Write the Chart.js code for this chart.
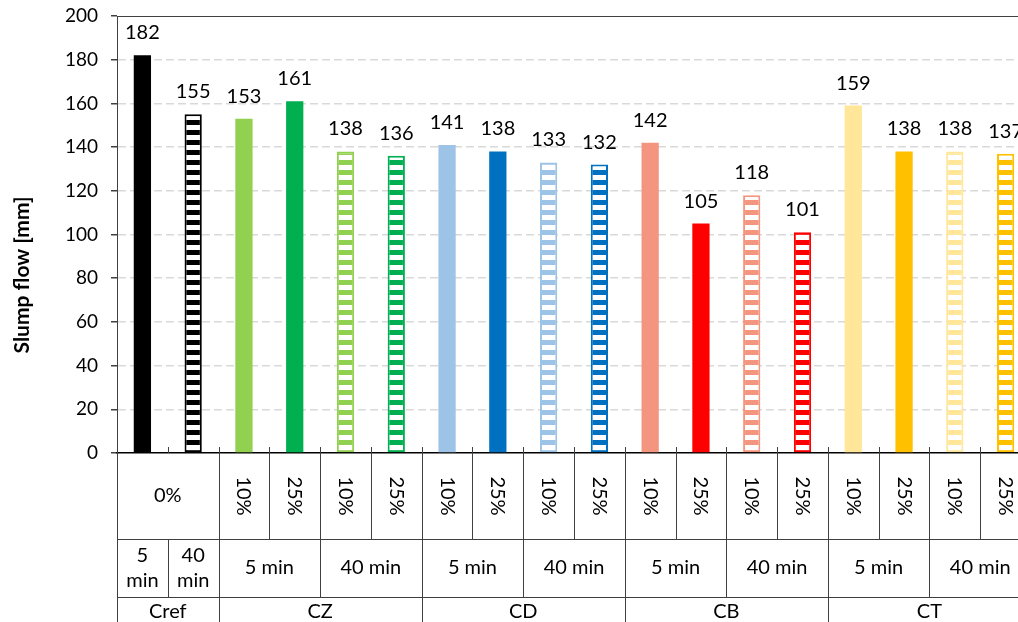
<!DOCTYPE html>
<html>
<head>
<meta charset="utf-8">
<title>Slump flow</title>
<script src="https://cdn.jsdelivr.net/npm/chart.js@4/dist/chart.umd.min.js"></script>
<style>
  html, body { margin: 0; padding: 0; background: #fff; overflow: hidden; }
  #wrap { width: 1018px; height: 622px; overflow: hidden; }
</style>
</head>
<body>
<div id="wrap">
  <canvas id="slump" width="1031" height="622"></canvas>
</div>
<script>
// mixes and bars, left to right
let groups = ['Cref', 'CZ', 'CD', 'CB', 'CT'];
let times = ['5 min', '40 min'];
let dosages = ['10%', '25%'];
let labels = [
  'Cref 5 min', 'Cref 40 min',
  'CZ 5 min 10%', 'CZ 5 min 25%', 'CZ 40 min 10%', 'CZ 40 min 25%',
  'CD 5 min 10%', 'CD 5 min 25%', 'CD 40 min 10%', 'CD 40 min 25%',
  'CB 5 min 10%', 'CB 5 min 25%', 'CB 40 min 10%', 'CB 40 min 25%',
  'CT 5 min 10%', 'CT 5 min 25%', 'CT 40 min 10%', 'CT 40 min 25%'
];
let slumpFlow = [182, 155, 153, 161, 138, 136, 141, 138, 133, 132, 142, 105, 118, 101, 159, 138, 138, 137];
let yMin = 0, yMax = 200, yStep = 20;

// colours per bar, 40 min bars are striped
let barColors = [
  '#000000', '#000000',
  '#92D050', '#00B050', '#92D050', '#00B050',
  '#9DC3E6', '#0070C0', '#9DC3E6', '#0070C0',
  '#F4967F', '#FF0000', '#F4967F', '#FF0000',
  '#FFE699', '#FFC000', '#FFE699', '#FFC000'
];
let striped = [false, true].concat([false, false, true, true, false, false, true, true,
  false, false, true, true, false, false, true, true]);

let font = 'Lato, "Open Sans", sans-serif';
let lineColor = '#404040';

let canvas = document.getElementById('slump');
let ctx = canvas.getContext('2d');

// horizontal stripes: coloured band then white band
function stripes(color) {
  let tile = document.createElement('canvas');
  tile.width = 4;
  tile.height = 10;
  let t = tile.getContext('2d');
  t.fillStyle = color;
  t.fillRect(0, 0, 4, 10);
  t.fillStyle = '#ffffff';
  t.fillRect(0, 5, 4, 5);
  return ctx.createPattern(tile, 'repeat');
}

let fills = barColors.map((c, i) => striped[i] ? stripes(c) : c);

// numbers above bars
let valueLabels = {
  id: 'valueLabels',
  afterDatasetsDraw(chart) {
    let c = chart.ctx;
    let meta = chart.getDatasetMeta(0);
    c.save();
    c.font = '20px ' + font;
    c.fillStyle = '#000';
    c.textAlign = 'center';
    c.textBaseline = 'alphabetic';
    meta.data.forEach((bar, i) => {
      c.fillText(String(chart.data.datasets[0].data[i]), bar.x, bar.y - 16);
    });
    c.restore();
  }
};

// category table under the x axis, top border and y title
let categoryTable = {
  id: 'categoryTable',
  afterDraw(chart) {
    let c = chart.ctx;
    let x = chart.scales.x;
    let y = chart.scales.y;
    let area = chart.chartArea;
    let edge = (i) => x.getPixelForValue(i - 0.5);
    let mid = (a, b) => (edge(a) + edge(b)) / 2;
    let top = area.bottom;
    let row1 = top + 86;
    let row2 = top + 144;
    let bottom = chart.height;

    c.save();
    c.setLineDash([]);
    c.strokeStyle = lineColor;
    c.lineWidth = 1;

    // plot top border at 200
    let yTop = Math.round(y.getPixelForValue(yMax)) + 0.5;
    c.beginPath();
    c.moveTo(area.left, yTop);
    c.lineTo(area.right, yTop);
    c.stroke();

    let vline = (i, y0, y1) => {
      let px = Math.round(edge(i)) + 0.5;
      c.beginPath();
      c.moveTo(px, y0);
      c.lineTo(px, y1);
      c.stroke();
    };
    let hline = (py) => {
      c.beginPath();
      c.moveTo(edge(0), py + 0.5);
      c.lineTo(edge(labels.length), py + 0.5);
      c.stroke();
    };

    // small ticks between categories
    for (let i = 1; i < labels.length; i++) vline(i, top - 6, top);

    // row of dosages
    for (let i = 0; i <= labels.length; i++) {
      if (i !== 1) vline(i, top, row1);
    }
    hline(row1);
    // row of times
    [0, 1, 2, 4, 6, 8, 10, 12, 14, 16, 18].forEach(i => vline(i, row1, row2));
    hline(row2);
    // row of mixes
    [0, 2, 6, 10, 14, 18].forEach(i => vline(i, row2, bottom));

    c.fillStyle = '#000';
    c.font = '20px ' + font;
    c.textAlign = 'center';
    c.textBaseline = 'middle';

    let r1 = (top + row1) / 2;
    c.fillText('0%', mid(0, 2), r1);
    for (let i = 2; i < labels.length; i++) {
      c.save();
      c.translate(x.getPixelForValue(i), r1);
      c.rotate(Math.PI / 2);
      c.fillText(dosages[i % 2], 0, 0);
      c.restore();
    }

    let r2 = (row1 + row2) / 2;
    c.fillText('5', x.getPixelForValue(0), r2 - 12);
    c.fillText('min', x.getPixelForValue(0), r2 + 13);
    c.fillText('40', x.getPixelForValue(1), r2 - 12);
    c.fillText('min', x.getPixelForValue(1), r2 + 13);
    for (let i = 2; i < labels.length; i += 2) {
      c.fillText(times[(i / 2 - 1) % 2], mid(i, i + 2), r2);
    }

    let r3 = row2 + 15;
    c.fillText(groups[0], mid(0, 2), r3);
    for (let g = 1; g < groups.length; g++) {
      c.fillText(groups[g], mid(2 + (g - 1) * 4, 6 + (g - 1) * 4), r3);
    }

    // y axis title
    c.save();
    c.translate(22, 275);
    c.rotate(-Math.PI / 2);
    c.font = 'bold 21px ' + font;
    c.fillText('Slump flow [mm]', 0, 0);
    c.restore();

    c.restore();
  }
};

let slumpChart = new Chart(ctx, {
  type: 'bar',
  data: {
    labels: labels,
    datasets: [{
      label: 'Slump flow',
      data: slumpFlow,
      backgroundColor: fills,
      borderColor: barColors,
      borderWidth: striped.map(s => s ? 2 : 0),
      borderSkipped: false,
      barPercentage: 0.34,
      categoryPercentage: 1
    }]
  },
  options: {
    responsive: false,
    animation: false,
    devicePixelRatio: 1,
    layout: { padding: { top: 16, right: 0, left: 0, bottom: 0 } },
    plugins: {
      legend: { display: false },
      tooltip: { enabled: false }
    },
    scales: {
      x: {
        ticks: { display: false },
        grid: { display: false },
        border: { display: true, color: '#000', width: 1.5 },
        afterFit: (scale) => { scale.height = 169; }
      },
      y: {
        min: yMin,
        max: yMax,
        ticks: {
          stepSize: yStep,
          padding: 13,
          color: '#000',
          font: { family: font, size: 19 }
        },
        grid: {
          color: (c) => (c.tick && (c.tick.value === yMin || c.tick.value === yMax)) ? 'rgba(0,0,0,0)' : '#d9d9d9',
          tickColor: lineColor,
          tickLength: 6,
          lineWidth: 1.5
        },
        border: { display: true, color: lineColor, width: 1, dash: [8, 4] },
        afterFit: (scale) => {
          scale.width = 117;
          scale.paddingTop = 0;
          scale.paddingBottom = 0;
        }
      }
    }
  },
  plugins: [valueLabels, categoryTable]
});
</script>
</body>
</html>
